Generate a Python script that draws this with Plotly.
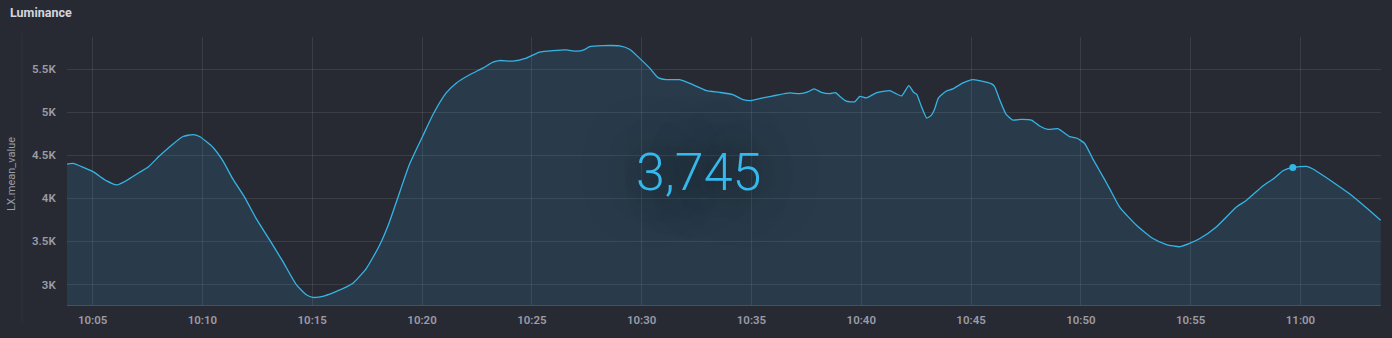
import plotly.graph_objects as go

DAY = "2024-01-01 "
times = [
    "10:03:50", "10:04:06", "10:05:01", "10:05:37", "10:06:06", "10:06:32", "10:07:08", "10:07:31",
    "10:08:03", "10:08:39", "10:09:07", "10:09:34", "10:09:52", "10:10:29", "10:10:56", "10:11:23",
    "10:11:55", "10:12:27", "10:13:04", "10:13:40", "10:14:17", "10:14:44", "10:15:02", "10:15:34",
    "10:16:06", "10:16:51", "10:17:28", "10:18:04", "10:18:31", "10:18:59", "10:19:26", "10:20:02",
    "10:20:30", "10:21:06", "10:21:34", "10:22:10", "10:22:46", "10:23:14", "10:23:32", "10:24:08",
    "10:24:45", "10:25:21", "10:25:58", "10:26:34", "10:27:02", "10:27:24", "10:27:38", "10:28:14",
    "10:29:00", "10:29:27", "10:29:54", "10:30:22", "10:30:44", "10:31:07", "10:31:44", "10:32:20",
    "10:32:57", "10:33:33", "10:34:09", "10:34:37", "10:35:00", "10:35:31", "10:36:08", "10:36:44",
    "10:37:12", "10:37:34", "10:37:51", "10:38:11", "10:38:34", "10:38:50", "10:39:01", "10:39:19",
    "10:39:42", "10:39:56", "10:40:14", "10:40:41", "10:41:18", "10:41:31", "10:41:50", "10:42:10",
    "10:42:23", "10:42:32", "10:42:44", "10:42:59", "10:43:11", "10:43:20", "10:43:31", "10:43:52",
    "10:44:10", "10:44:38", "10:45:05", "10:45:32", "10:45:55", "10:46:04", "10:46:18", "10:46:36",
    "10:46:54", "10:47:17", "10:47:45", "10:48:07", "10:48:30", "10:48:57", "10:49:29", "10:49:48",
    "10:50:10", "10:50:33", "10:51:05", "10:51:19", "10:51:46", "10:52:32", "10:53:17", "10:53:54",
    "10:54:30", "10:54:57", "10:55:25", "10:56:10", "10:57:05", "10:57:32", "10:58:18", "10:58:49",
    "10:59:12", "10:59:39", "11:00:16", "11:00:34", "11:01:29", "11:02:14", "11:03:00", "11:03:39",
]
lux = [
    4397, 4405, 4309, 4205, 4155, 4205, 4302, 4360,
    4493, 4628, 4717, 4740, 4717, 4590, 4435, 4225,
    4014, 3764, 3514, 3265, 2995, 2880, 2850, 2869,
    2919, 3015, 3188, 3456, 3726, 4071, 4397, 4723,
    4973, 5223, 5339, 5434, 5511, 5580, 5599, 5592,
    5627, 5696, 5714, 5722, 5707, 5726, 5760, 5772,
    5768, 5730, 5627, 5511, 5404, 5377, 5377, 5319,
    5250, 5230, 5204, 5146, 5135, 5165, 5196, 5223,
    5215, 5235, 5269, 5230, 5215, 5227, 5184, 5127,
    5120, 5184, 5165, 5223, 5250, 5223, 5189, 5307,
    5230, 5204, 5069, 4931, 4962, 5031, 5165, 5242,
    5269, 5339, 5377, 5358, 5331, 5300, 5146, 4973,
    4908, 4916, 4908, 4839, 4800, 4808, 4717, 4700,
    4639, 4455, 4217, 4109, 3899, 3687, 3533, 3464,
    3438, 3476, 3533, 3668, 3899, 3975, 4147, 4236,
    4320, 4359, 4371, 4340, 4187, 4052, 3890, 3745,
]
hover_index = 121
y_tickvals = [3000, 3500, 4000, 4500, 5000, 5500]
y_ticktext = ["3K", "3.5K", "4K", "4.5K", "5K", "5.5K"]
title_text = "Luminance"
y_title = "LX.mean_value"
stat_text = "3,745"

x = [DAY + t for t in times]
BG = "#282a33"
LINE = "#35b4e6"
GRID = "rgba(255,255,255,0.09)"
TICK = "#9a9ca6"

fig = go.Figure()
fig.add_trace(go.Scatter(
    x=x, y=lux, mode="lines",
    line=dict(color=LINE, width=1.3, shape="spline", smoothing=0.5),
    fill="tozeroy", fillcolor="rgba(53,180,230,0.13)",
    hoverinfo="skip", showlegend=False,
))
fig.add_trace(go.Scatter(
    x=[x[hover_index]], y=[lux[hover_index]], mode="markers",
    marker=dict(color=LINE, size=7), hoverinfo="skip", showlegend=False,
))

fig.update_layout(
    width=1392, height=338,
    margin=dict(l=67, r=11, t=37, b=31),
    paper_bgcolor=BG, plot_bgcolor=BG,
    font=dict(family="Roboto", color=TICK, size=11),
    xaxis=dict(
        type="date",
        range=[DAY + "10:03:50", DAY + "11:03:40"],
        dtick=5 * 60 * 1000, tick0=DAY + "10:00:00",
        tickformat="%H:%M",
        showgrid=True, gridcolor=GRID, gridwidth=1,
        zeroline=False, showline=True, linecolor="rgba(80,110,135,0.6)", linewidth=1,
        ticks="outside", ticklen=4, tickcolor="rgba(0,0,0,0)",
        tickfont=dict(family="Roboto", size=11.5, color=TICK, weight=600),
    ),
    yaxis=dict(
        range=[2762, 5872],
        tickvals=y_tickvals, ticktext=y_ticktext,
        showgrid=True, gridcolor=GRID, gridwidth=1,
        zeroline=False, showline=False,
        ticks="outside", ticklen=8, tickcolor="rgba(0,0,0,0)",
        tickfont=dict(family="Roboto", size=11.5, color=TICK, weight=600),
    ),
    annotations=[
        dict(text=title_text, xref="paper", yref="paper",
             x=(8 - 67) / 1314, y=1 + (37 - 12) / 270, xanchor="left", yanchor="middle",
             showarrow=False,
             font=dict(family="Roboto", size=12.5, color="#d3d5dc", weight=700)),
        dict(text=y_title, xref="paper", yref="paper",
             x=(12 - 67) / 1314, y=(307 - 175) / 270, xanchor="center", yanchor="middle",
             textangle=-90, showarrow=False,
             font=dict(family="Roboto", size=11, color=TICK, weight=400)),
        dict(text=stat_text, xref="paper", yref="paper",
             x=(698 - 67) / 1314, y=(307 - 174) / 270, xanchor="center", yanchor="middle",
             showarrow=False,
             font=dict(family="Roboto", size=52, color="#35b8ec", weight=300,
                       shadow="0px 0px 30px rgba(18,20,26,0.85), 0px 0px 60px rgba(18,20,26,0.6)")),
    ],
    shapes=[
        dict(type="line", xref="paper", yref="paper",
             x0=(22 - 67) / 1314, x1=(22 - 67) / 1314, y0=(307 - 33) / 270, y1=(307 - 325) / 270,
             line=dict(color="rgba(255,255,255,0.04)", width=1)),
    ],
)

fig.write_html("out.html")
